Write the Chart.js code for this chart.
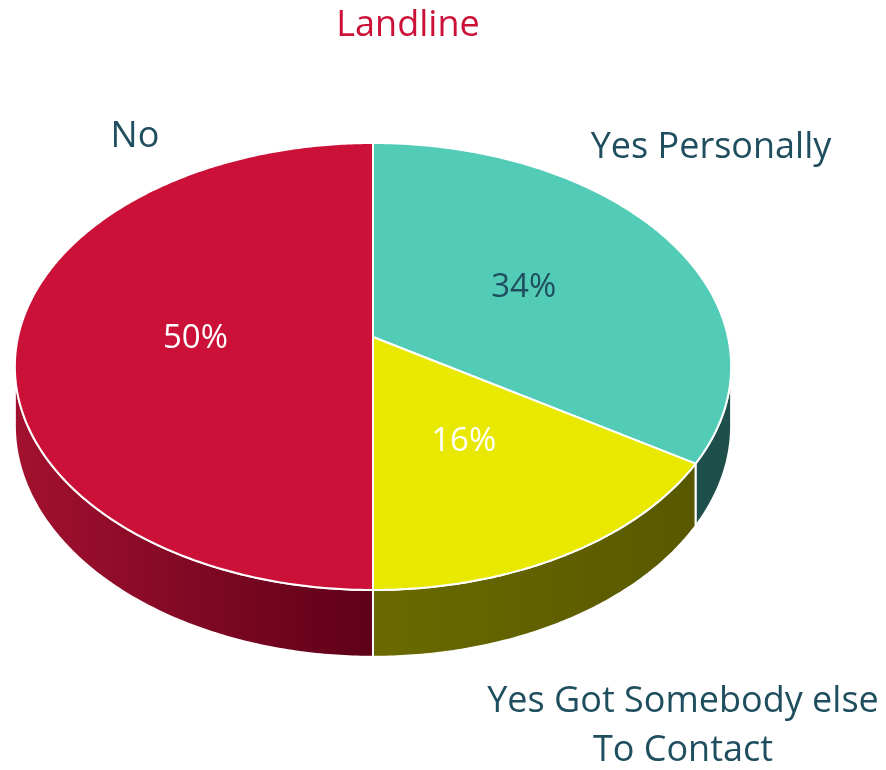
<!DOCTYPE html>
<html>
<head>
<meta charset="utf-8">
<title>Landline</title>
<script src="https://cdn.jsdelivr.net/npm/chart.js@4/dist/chart.umd.min.js"></script>
<style>
  html, body { margin: 0; padding: 0; background: #FFFFFF; }
  canvas { display: block; }
</style>
</head>
<body>
<canvas id="landlineChart" width="886" height="770"></canvas>
<script>
// Landline answers, clockwise from 12 o'clock
const categories = ['Yes Personally', 'Yes Got Somebody else\nTo Contact', 'No'];
const shares = [34, 16, 50];

// Top face colours and the shaded side wall colours (light -> dark)
const topColors = ['#52CBB7', '#E8E800', '#CC1138'];
const wallColors = [['#1F4F4A', '#1F4F4A'], ['#6A6A00', '#585800'], ['#A3112F', '#5E0019']];
const valueColors = ['#1F4E5F', '#FFFFFF', '#FFFFFF'];

const labelColor = '#1F4E5F';
const fontFamily = '"Open Sans", Lato, sans-serif';

// Tilted disc: centre, radii, perspective strength and wall depth
const tilt = { cx: 373, cy: 337, rx: 355, ry: 219.6, k: 0.132, depth: 58 };

// Where the category names sit (centre x, baseline y of first line)
const nameSpots = [[711, 158], [683, 712], [135, 147]];

function project(angle, r, down) {
  const X = Math.cos(angle) * r;
  const Z = Math.sin(angle) * r;
  const w = 1 - tilt.k * Z;
  return {
    x: tilt.cx + tilt.rx * X / w,
    y: tilt.cy + tilt.ry * Z / w + (down ? tilt.depth / w : 0)
  };
}

// Angles where the rim is widest, i.e. where the wall starts showing
function silhouette() {
  let right = 0, left = Math.PI, maxX = -Infinity, minX = Infinity;
  for (let i = 0; i <= 2000; i++) {
    const a = -Math.PI / 2 + (i / 2000) * 2 * Math.PI;
    const p = project(a, 1, false);
    if (a < Math.PI / 2 && p.x > maxX) { maxX = p.x; right = a; }
    if (a > Math.PI / 2 && p.x < minX) { minX = p.x; left = a; }
  }
  return [right, left];
}

function arcPoints(a0, a1, r, down) {
  const pts = [];
  const steps = Math.max(2, Math.ceil(Math.abs(a1 - a0) / 0.01));
  for (let i = 0; i <= steps; i++) {
    pts.push(project(a0 + (a1 - a0) * i / steps, r, down));
  }
  return pts;
}

const tiltedPie = {
  id: 'tiltedPie',
  beforeDatasetsDraw(chart) {
    const ctx = chart.ctx;
    const meta = chart.getDatasetMeta(0);
    const [front0, front1] = silhouette();

    ctx.save();
    ctx.lineJoin = 'round';

    // side walls on the near half of the disc
    meta.data.forEach((arc, i) => {
      const a0 = Math.max(arc.startAngle, front0);
      const a1 = Math.min(arc.endAngle, front1);
      if (a1 <= a0) return;
      const topEdge = arcPoints(a0, a1, 1, false);
      const bottomEdge = arcPoints(a1, a0, 1, true);
      ctx.beginPath();
      topEdge.concat(bottomEdge).forEach((p, j) => j ? ctx.lineTo(p.x, p.y) : ctx.moveTo(p.x, p.y));
      ctx.closePath();
      const xs = topEdge.map(p => p.x);
      const grad = ctx.createLinearGradient(Math.min(...xs), 0, Math.max(...xs), 0);
      grad.addColorStop(0, wallColors[i][0]);
      grad.addColorStop(1, wallColors[i][1]);
      ctx.fillStyle = grad;
      ctx.fill();
      ctx.strokeStyle = '#FFFFFF';
      ctx.lineWidth = 2;
      ctx.stroke();
    });

    // top faces
    meta.data.forEach((arc, i) => {
      const rim = arcPoints(arc.startAngle, arc.endAngle, 1, false);
      ctx.beginPath();
      ctx.moveTo(tilt.cx, tilt.cy);
      rim.forEach(p => ctx.lineTo(p.x, p.y));
      ctx.closePath();
      ctx.fillStyle = topColors[i];
      ctx.fill();
      ctx.strokeStyle = '#FFFFFF';
      ctx.lineWidth = 2;
      ctx.stroke();
    });

    // percentages inside the slices
    const total = shares.reduce((a, b) => a + b, 0);
    ctx.font = '33px ' + fontFamily;
    ctx.textAlign = 'center';
    ctx.textBaseline = 'middle';
    meta.data.forEach((arc, i) => {
      const p = project((arc.startAngle + arc.endAngle) / 2, 0.5, false);
      ctx.fillStyle = valueColors[i];
      ctx.fillText(Math.round(shares[i] / total * 100) + '%', p.x, p.y + 2);
    });

    // category names outside the disc
    ctx.font = '36px ' + fontFamily;
    ctx.textBaseline = 'alphabetic';
    ctx.fillStyle = labelColor;
    categories.forEach((name, i) => {
      name.split('\n').forEach((line, j) => {
        ctx.fillText(line, nameSpots[i][0], nameSpots[i][1] + j * 49);
      });
    });

    ctx.restore();
    return false;
  }
};

new Chart(document.getElementById('landlineChart'), {
  type: 'pie',
  data: {
    labels: categories,
    datasets: [{
      data: shares,
      backgroundColor: topColors,
      borderColor: '#FFFFFF',
      borderWidth: 2
    }]
  },
  options: {
    responsive: false,
    animation: false,
    layout: { padding: { right: 70 } },
    plugins: {
      legend: { display: false },
      tooltip: { enabled: false },
      title: {
        display: true,
        text: 'Landline',
        color: '#CC1138',
        font: { family: fontFamily, size: 36, weight: 'normal' },
        padding: { top: 4, bottom: 0 }
      }
    }
  },
  plugins: [tiltedPie]
});
</script>
</body>
</html>
